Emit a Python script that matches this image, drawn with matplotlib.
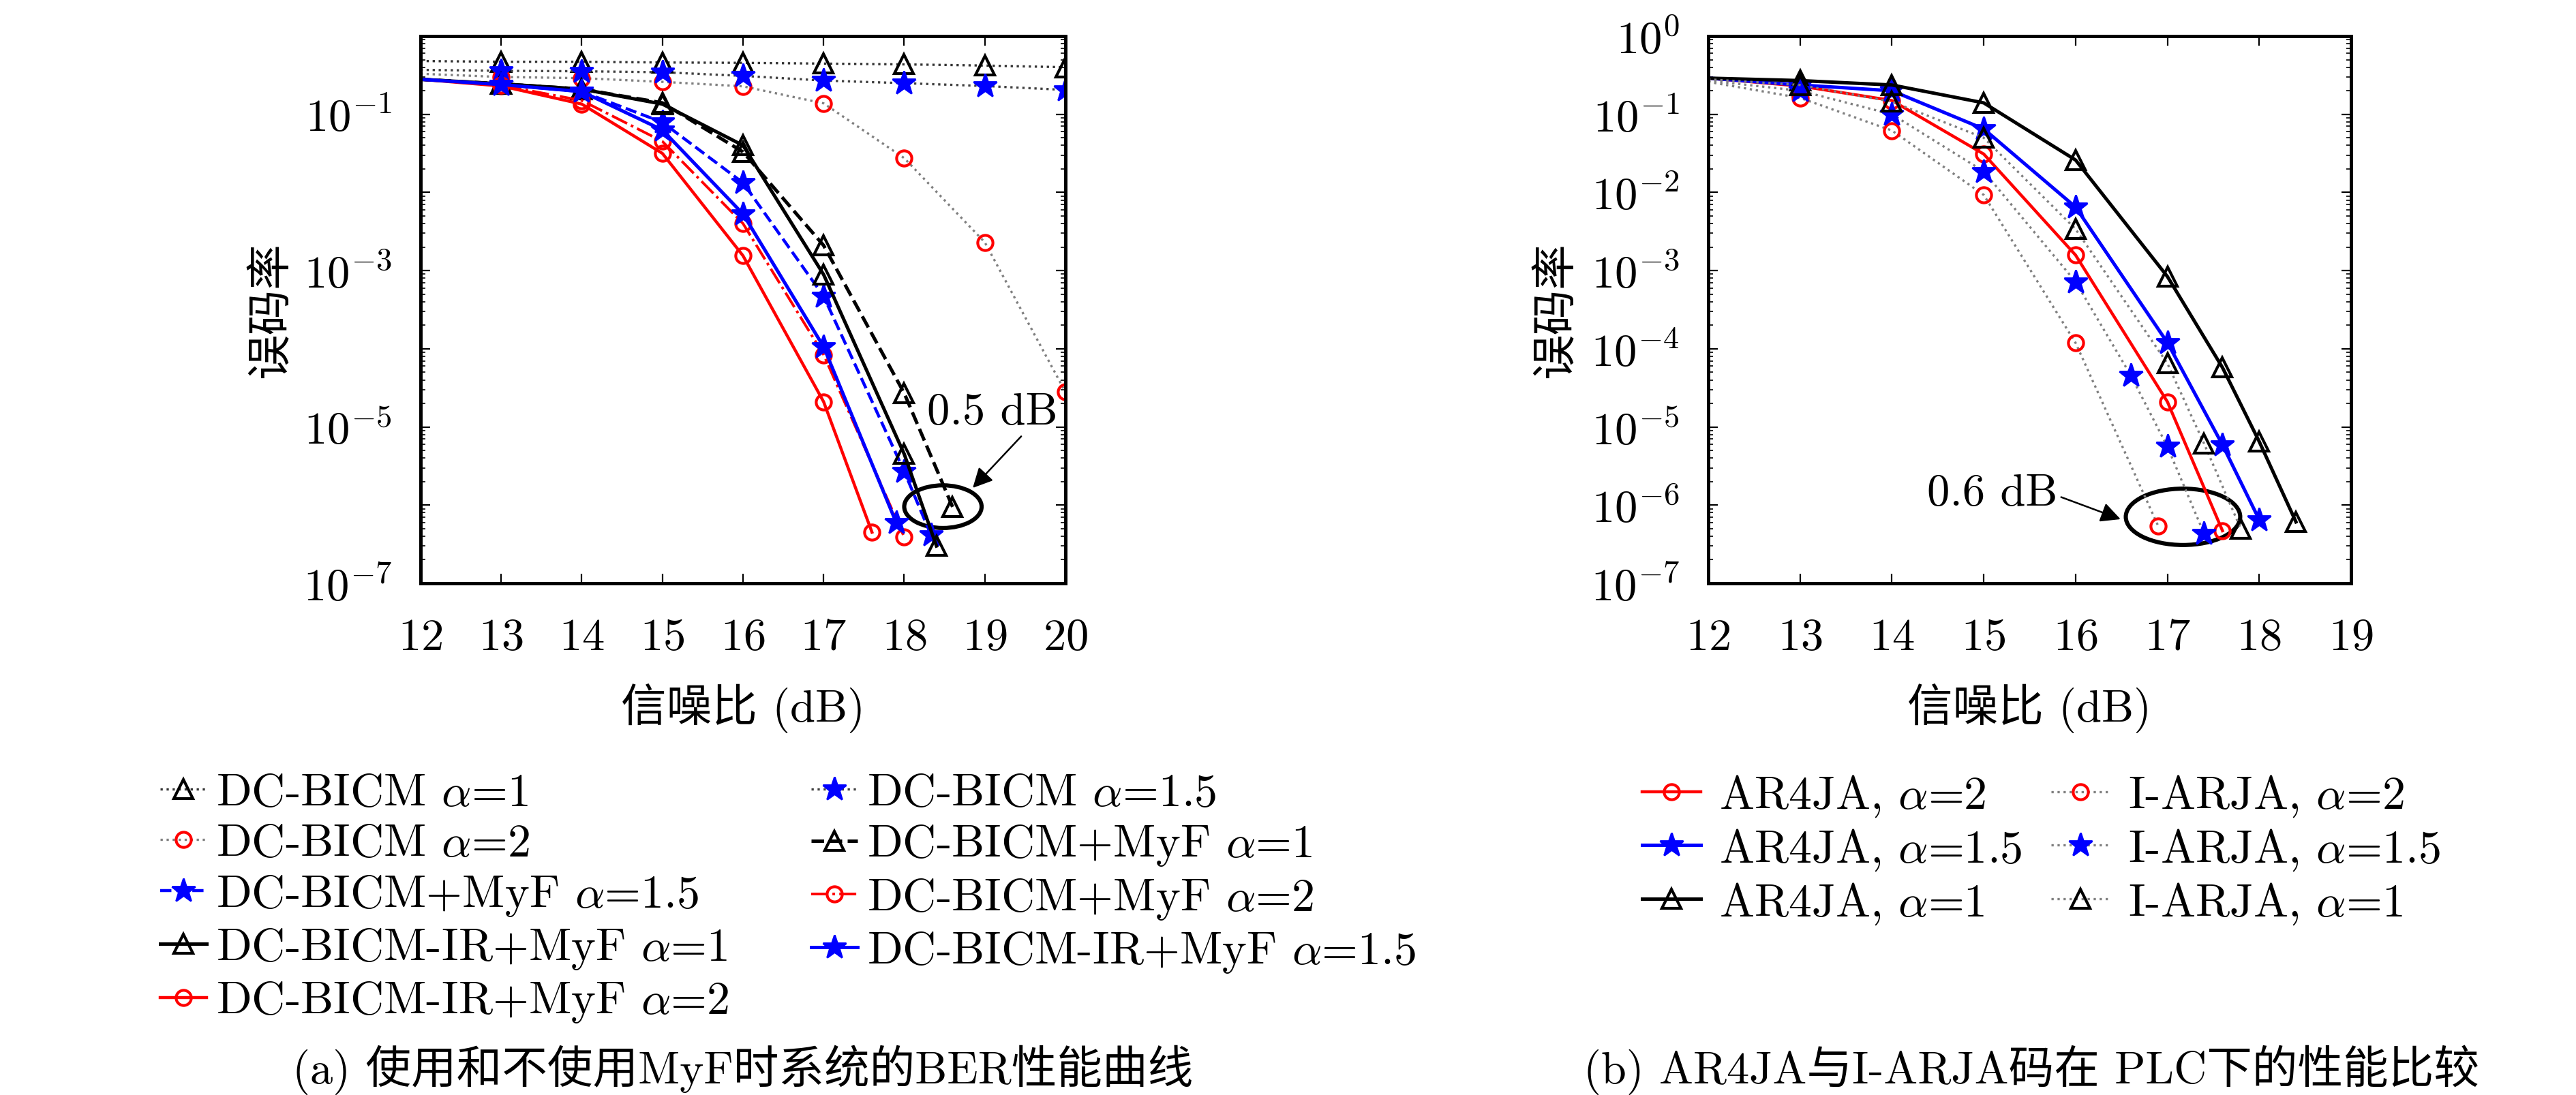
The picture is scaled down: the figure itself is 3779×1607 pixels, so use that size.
import numpy as np
import matplotlib
matplotlib.use('Agg')
import matplotlib.pyplot as plt
from matplotlib.patches import Ellipse
from matplotlib.ticker import FixedLocator, FuncFormatter, LogLocator, NullFormatter

plt.rcParams['font.family'] = ['cmr10', 'Noto Sans CJK SC']
plt.rcParams['mathtext.fontset'] = 'cm'
plt.rcParams['axes.formatter.use_mathtext'] = True
plt.rcParams['axes.linewidth'] = 1.8
plt.rcParams['font.size'] = 24

# ---- (a) data: BER vs SNR (dB) ----
x_a = [12, 13, 14, 15, 16, 17, 18, 19, 20]
bicm_a1 = [0.48, 0.47, 0.47, 0.46, 0.455, 0.445, 0.435, 0.42, 0.40]
bicm_a15 = [0.37, 0.36, 0.355, 0.345, 0.31, 0.27, 0.25, 0.23, 0.205]
bicm_a2 = [0.33, 0.30, 0.29, 0.26, 0.228, 0.138, 0.0275, 0.0023, 2.8e-5]

x_myf_a1 = [12, 13, 14, 15, 16, 17, 18, 18.6]
myf_a1 = [0.28, 0.245, 0.21, 0.14, 0.033, 2.1e-3, 2.7e-5, 9.5e-7]
x_myf_a15 = [12, 13, 14, 15, 16, 17, 18, 18.33]
myf_a15 = [0.28, 0.24, 0.195, 0.079, 0.0133, 4.7e-4, 2.7e-6, 4.2e-7]
x_myf_a2 = [12, 13, 14, 15, 16, 17, 18]
myf_a2 = [0.28, 0.235, 0.15, 0.045, 4.0e-3, 8.4e-5, 3.9e-7]

x_ir_a1 = [12, 13, 14, 15, 16, 17, 18, 18.4]
ir_a1 = [0.28, 0.245, 0.21, 0.135, 0.04, 8.9e-4, 4.5e-6, 3.0e-7]
x_ir_a15 = [12, 13, 14, 15, 16, 17, 17.9]
ir_a15 = [0.28, 0.24, 0.195, 0.063, 5.3e-3, 1.06e-4, 6.0e-7]
x_ir_a2 = [12, 13, 14, 15, 16, 17, 17.6]
ir_a2 = [0.28, 0.23, 0.135, 0.0316, 1.55e-3, 2.1e-5, 4.5e-7]

# ---- (b) data ----
x_ar_a2 = [12, 13, 14, 15, 16, 17, 17.6]
ar_a2 = [0.29, 0.23, 0.15, 0.031, 1.58e-3, 2.1e-5, 4.7e-7]
x_ar_a15 = [12, 13, 14, 15, 16, 17, 17.6, 18]
ar_a15 = [0.29, 0.237, 0.2, 0.065, 6.5e-3, 1.2e-4, 5.9e-6, 6.5e-7]
x_ar_a1 = [12, 13, 14, 15, 16, 17, 17.6, 18, 18.4]
ar_a1 = [0.29, 0.27, 0.237, 0.14, 0.026, 8.4e-4, 5.75e-5, 6.5e-6, 6.1e-7]

x_ia_a2 = [12, 13, 14, 15, 16, 16.9]
ia_a2 = [0.26, 0.162, 0.062, 9.3e-3, 1.19e-4, 5.4e-7]
x_ia_a15 = [12, 13, 14, 15, 16, 16.6, 17, 17.4]
ia_a15 = [0.27, 0.2, 0.1, 0.0186, 7.2e-4, 4.6e-5, 5.6e-6, 4.3e-7]
x_ia_a1 = [12, 13, 14, 15, 16, 17, 17.4, 17.8]
ia_a1 = [0.28, 0.237, 0.145, 0.05, 3.4e-3, 6.5e-5, 6.1e-6, 4.95e-7]

W, H = 3780, 1608
fig = plt.figure(figsize=(W / 200, H / 200), dpi=200)
ax1 = fig.add_axes([617 / W, 1 - 857 / H, 946 / W, 803 / H])
ax2 = fig.add_axes([2506 / W, 1 - 857 / H, 943 / W, 803 / H])

tri = dict(marker='^', markersize=10, markerfacecolor='none', markeredgewidth=1.5)
star = dict(marker='*', markersize=13, markeredgewidth=1.0)
circ = dict(marker='o', markersize=8, markerfacecolor='none', markeredgewidth=1.5)
skip0 = dict(markevery=slice(1, None))

A = r'$\alpha$'
l = []
l += ax1.plot(x_a, bicm_a1, ':', color='0.2', lw=1.2, mec='k', label='DC-BICM ' + A + '=1', **tri, **skip0)
l += ax1.plot(x_a, bicm_a2, ':', color='0.5', lw=1.2, mec='red', label='DC-BICM ' + A + '=2', **circ, **skip0)
l += ax1.plot(x_myf_a15, myf_a15, '--', color='blue', lw=1.6, mfc='blue', mec='blue',
              label='DC-BICM+MyF ' + A + '=1.5', **star, **skip0)
l += ax1.plot(x_ir_a1, ir_a1, '-', color='k', lw=1.8, mec='k', label='DC-BICM-IR+MyF ' + A + '=1', **tri, **skip0)
l += ax1.plot(x_ir_a2, ir_a2, '-', color='red', lw=1.6, mec='red', label='DC-BICM-IR+MyF ' + A + '=2', **circ, **skip0)
l += ax1.plot(x_a, bicm_a15, ':', color='0.25', lw=1.2, mfc='blue', mec='blue', label='DC-BICM ' + A + '=1.5', **star, **skip0)
l += ax1.plot(x_myf_a1, myf_a1, '--', color='k', lw=1.8, mec='k', label='DC-BICM+MyF ' + A + '=1', **tri, **skip0)
l += ax1.plot(x_myf_a2, myf_a2, '-.', color='red', lw=1.4, mec='red', label='DC-BICM+MyF ' + A + '=2', **circ, **skip0)
l += ax1.plot(x_ir_a15, ir_a15, '-', color='blue', lw=1.8, mfc='blue', mec='blue',
              label='DC-BICM-IR+MyF ' + A + '=1.5', **star, **skip0)

r = []
r += ax2.plot(x_ar_a2, ar_a2, '-', color='red', lw=1.6, mec='red', label='AR4JA, ' + A + '=2', **circ, **skip0)
r += ax2.plot(x_ar_a15, ar_a15, '-', color='blue', lw=1.8, mfc='blue', mec='blue', label='AR4JA, ' + A + '=1.5', **star, **skip0)
r += ax2.plot(x_ar_a1, ar_a1, '-', color='k', lw=1.8, mec='k', label='AR4JA, ' + A + '=1', **tri, **skip0)
r += ax2.plot(x_ia_a2, ia_a2, ':', color='0.5', lw=1.2, mec='red', label='I-ARJA, ' + A + '=2', **circ, **skip0)
r += ax2.plot(x_ia_a15, ia_a15, ':', color='0.5', lw=1.2, mfc='blue', mec='blue', label='I-ARJA, ' + A + '=1.5', **star, **skip0)
r += ax2.plot(x_ia_a1, ia_a1, ':', color='0.5', lw=1.2, mec='k', label='I-ARJA, ' + A + '=1', **tri, **skip0)

def odd_only(v, pos):
    e = int(round(np.log10(v)))
    return r'$10^{%d}$' % e if e % 2 else ''

for ax, xmax in ((ax1, 20), (ax2, 19)):
    ax.set_yscale('log')
    ax.set_xlim(12, xmax)
    ax.set_ylim(1e-7, 1)
    ax.set_xticks(range(12, xmax + 1))
    ax.yaxis.set_major_locator(FixedLocator([10.0 ** e for e in range(-7, 1)]))
    ax.yaxis.set_minor_locator(LogLocator(subs=np.arange(2, 10), numticks=100))
    ax.yaxis.set_minor_formatter(NullFormatter())
    ax.tick_params(which='both', direction='in', top=True, right=True, labelsize=24)
    ax.tick_params(which='major', length=5, width=0.8)
    ax.tick_params(which='minor', length=2.5, width=0.6)
    ax.tick_params(axis='x', pad=18)
    ax.tick_params(axis='y', pad=15)
    ax.set_xlabel('信噪比 (dB)', fontsize=24)
    ax.set_ylabel('误码率', fontsize=24)
    ax.xaxis.set_label_coords(0.5, -0.182)

ax1.yaxis.set_major_formatter(FuncFormatter(odd_only))
ax1.yaxis.set_label_coords(-0.198, 0.5)
ax2.yaxis.set_label_coords(-0.2025, 0.5)

# annotations
def to_axes(ax, px, py):
    return (ax.transData + ax.transAxes.inverted()).transform((px, py))

cx, cy = to_axes(ax1, 18.48, 10 ** -6.02)
ax1.add_patch(Ellipse((cx, cy), 0.12, 0.078, transform=ax1.transAxes, fill=False, lw=2.2, color='k'))
ax1.annotate('0.5 dB', xy=(18.85, 10 ** -5.78), xytext=(18.28, 1.1e-5), fontsize=24,
             arrowprops=dict(arrowstyle='-|>', color='k', lw=0.9, mutation_scale=22, shrinkA=0, shrinkB=0,
                             relpos=(0.75, 0.0)))

cx, cy = to_axes(ax2, 17.17, 10 ** -6.15)
ax2.add_patch(Ellipse((cx, cy), 0.178, 0.103, transform=ax2.transAxes, fill=False, lw=2.2, color='k'))
ax2.annotate('0.6 dB', xy=(16.49, 10 ** -6.18), xytext=(14.38, 1e-6), fontsize=24,
             arrowprops=dict(arrowstyle='-|>', color='k', lw=0.9, mutation_scale=22, shrinkA=0, shrinkB=0,
                             relpos=(1.0, 0.45)))

fig.legend(handles=l, loc='upper left', bbox_to_anchor=(235 / W, 1 - 1135 / H), ncol=2, frameon=False,
           borderpad=0, borderaxespad=0, handlelength=1.0, handletextpad=0.2, columnspacing=1.78,
           labelspacing=0.18, fontsize=24.5)
fig.legend(handles=r, loc='upper left', bbox_to_anchor=(2409 / W, 1 - 1135 / H), ncol=2, frameon=False,
           borderpad=0, borderaxespad=0, handlelength=1.26, handletextpad=0.4, columnspacing=0.62,
           labelspacing=0.18, fontsize=24.5)

fig.text(1090 / W, 1 - 1570 / H, '(a) 使用和不使用MyF时系统的BER性能曲线', ha='center', va='center', fontsize=24)
fig.text(2980 / W, 1 - 1570 / H, '(b) AR4JA与I-ARJA码在 PLC下的性能比较', ha='center', va='center', fontsize=24)

fig.savefig('out.png', dpi=200)
